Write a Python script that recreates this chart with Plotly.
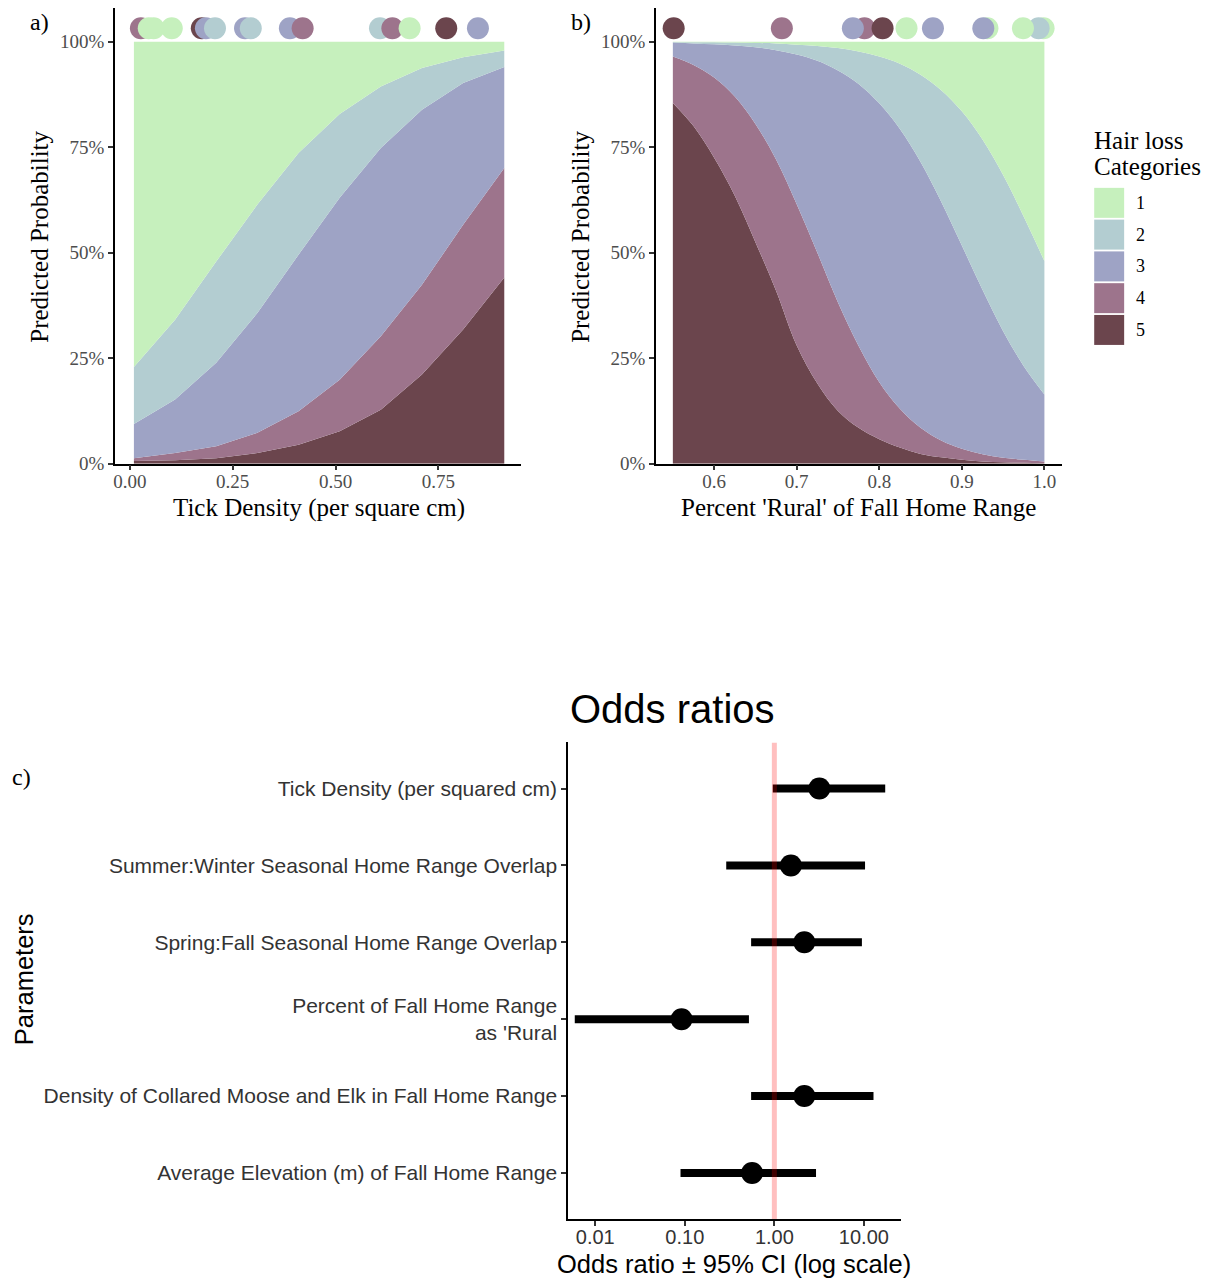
import plotly.graph_objects as go

# ---------------- data ----------------
CATEGORIES = [1, 2, 3, 4, 5]
COLORS = {1: '#c6f0bd', 2: '#b3cdd1', 3: '#9ea3c5', 4: '#9d748c', 5: '#6b454d'}

# panel a: predicted probability (%) of each hair-loss category vs tick density
tick_x = [0.01, 0.11, 0.21, 0.31, 0.41, 0.51, 0.61, 0.71, 0.81, 0.91]
tick_p1 = [77.1, 65.9, 52.1, 38.6, 26.4, 17.1, 10.6, 6.2, 3.7, 2.1]
tick_p2 = [13.5, 18.9, 24.0, 25.7, 24.1, 19.9, 14.6, 9.9, 6.1, 3.9]
tick_p3 = [8.1, 12.7, 19.8, 28.4, 37.1, 43.1, 44.6, 41.5, 33.6, 23.9]
tick_p4 = [0.7, 1.7, 2.8, 4.8, 7.9, 12.2, 17.4, 21.3, 24.8, 26.0]
tick_p5 = [0.6, 0.8, 1.3, 2.5, 4.5, 7.7, 12.8, 21.1, 31.8, 44.1]

# observed animals (tick density, category)
tick_obs_x = [0.027, 0.046, 0.058, 0.102, 0.175, 0.185, 0.207, 0.280, 0.294,
              0.389, 0.420, 0.608, 0.638, 0.680, 0.769, 0.846]
tick_obs_cat = [4, 1, 1, 1, 5, 3, 2, 3, 2, 3, 4, 2, 4, 1, 5, 3]

# panel b: predicted probability (%) vs percent rural of fall home range
rural_x = [0.55, 0.575, 0.6, 0.625, 0.65, 0.675, 0.7, 0.725, 0.75, 0.775,
           0.8, 0.825, 0.85, 0.875, 0.9, 0.925, 0.95, 0.975, 1.0]
rural_p1 = [0.05, 0.1, 0.1, 0.2, 0.3, 0.4, 0.7, 1.0, 1.5, 2.3,
            3.5, 5.2, 7.8, 11.5, 16.5, 23.2, 31.6, 41.5, 52.0]
rural_p2 = [0.15, 0.3, 0.5, 0.7, 1.0, 1.6, 2.3, 3.5, 5.3, 7.7,
            11.1, 15.5, 20.7, 26.4, 31.8, 35.6, 37.0, 35.4, 31.6]
rural_p3 = [3.3, 5.1, 7.9, 12.1, 18.2, 25.9, 35.5, 45.5, 55.0, 62.1,
            66.1, 66.3, 63.0, 56.6, 48.2, 39.0, 30.0, 22.2, 15.9]
rural_p4 = [11.0, 14.5, 19.0, 23.5, 28.0, 31.1, 33.5, 31.0, 25.7, 19.4,
            13.5, 9.2, 6.2, 4.0, 2.6, 1.7, 1.1, 0.7, 0.4]
rural_p5 = [85.5, 80.0, 72.5, 63.5, 52.5, 41.0, 28.0, 19.0, 12.5, 8.5,
            5.8, 3.8, 2.3, 1.5, 0.9, 0.5, 0.3, 0.2, 0.1]

rural_obs_x = [0.551, 0.682, 0.782, 0.768, 0.804, 0.833, 0.865, 0.931, 0.926,
               0.999, 0.993, 0.974]
rural_obs_cat = [5, 4, 4, 3, 5, 1, 3, 1, 3, 1, 2, 1]

# panel c: odds ratios with 95% CI
params = ["Tick Density (per squared cm)",
          "Summer:Winter Seasonal Home Range Overlap",
          "Spring:Fall Seasonal Home Range Overlap",
          "Percent of Fall Home Range<br>as 'Rural",
          "Density of Collared Moose and Elk in Fall Home Range",
          "Average Elevation (m) of Fall Home Range"]
odds = [3.18, 1.53, 2.16, 0.092, 2.16, 0.564]
ci_low = [0.96, 0.29, 0.55, 0.0059, 0.55, 0.0895]
ci_high = [17.3, 10.3, 9.5, 0.52, 12.8, 2.92]

# ---------------- figure ----------------
W, H = 1215, 1280
H_EFF = 1270
def px(x):
    return x / W
def py(y):
    return 1 - y / H_EFF

SERIF = "Liberation Serif"
SANS = "Liberation Sans"
GREY = "#4d4d4d"
DARK = "#333333"

fig = go.Figure()

tick_probs = {1: tick_p1, 2: tick_p2, 3: tick_p3, 4: tick_p4, 5: tick_p5}
rural_probs = {1: rural_p1, 2: rural_p2, 3: rural_p3, 4: rural_p4, 5: rural_p5}

for cat in reversed(CATEGORIES):
    fig.add_trace(go.Scatter(
        x=tick_x, y=[v / 100 for v in tick_probs[cat]], stackgroup='a',
        mode='lines', line=dict(width=0, shape='linear'),
        fillcolor=COLORS[cat], name=str(cat), showlegend=False,
        xaxis='x', yaxis='y'))
for cat in reversed(CATEGORIES):
    fig.add_trace(go.Scatter(
        x=rural_x, y=[v / 100 for v in rural_probs[cat]], stackgroup='b',
        mode='lines', line=dict(width=0, shape='spline', smoothing=1.0),
        fillcolor=COLORS[cat], name=str(cat), showlegend=False,
        xaxis='x2', yaxis='y2'))

DOT_Y = 1.032
fig.add_trace(go.Scatter(
    x=tick_obs_x, y=[DOT_Y] * len(tick_obs_x), mode='markers',
    marker=dict(size=22, color=[COLORS[c] for c in tick_obs_cat], line=dict(width=0)),
    cliponaxis=False, showlegend=False, xaxis='x', yaxis='y'))
fig.add_trace(go.Scatter(
    x=rural_obs_x, y=[DOT_Y] * len(rural_obs_x), mode='markers',
    marker=dict(size=22, color=[COLORS[c] for c in rural_obs_cat], line=dict(width=0)),
    cliponaxis=False, showlegend=False, xaxis='x2', yaxis='y2'))

# panel c
n = len(params)
ypos = list(range(n, 0, -1))
seg_x, seg_y = [], []
for lo, hi, yv in zip(ci_low, ci_high, ypos):
    seg_x += [lo, hi, None]
    seg_y += [yv, yv, None]
fig.add_trace(go.Scatter(x=seg_x, y=seg_y, mode='lines',
                         line=dict(color='black', width=8), showlegend=False,
                         xaxis='x3', yaxis='y3'))
fig.add_trace(go.Scatter(x=[1, 1], y=[0.4, n + 0.6], mode='lines',
                         line=dict(color='rgba(255,0,0,0.25)', width=5),
                         showlegend=False, xaxis='x3', yaxis='y3'))
fig.add_trace(go.Scatter(x=odds, y=ypos, mode='markers',
                         marker=dict(color='black', size=22), showlegend=False,
                         xaxis='x3', yaxis='y3'))

axis_common = dict(showgrid=False, zeroline=False, showline=True, linecolor='black',
                   linewidth=1.5, ticks='outside', ticklen=5, tickwidth=1.5,
                   tickcolor='#333333')

fig.update_layout(
    width=W, height=H, margin=dict(l=0, r=0, t=0, b=0),
    paper_bgcolor='white', plot_bgcolor='white', showlegend=False,
    xaxis=dict(domain=[px(113), px(520)], range=[-0.0364, 0.951],
               tickvals=[0, 0.25, 0.5, 0.75], ticktext=['0.00', '0.25', '0.50', '0.75'],
               ticklabelstandoff=-5,
               tickfont=dict(family=SERIF, size=19, color=GREY), anchor='y', **axis_common),
    yaxis=dict(domain=[py(464), py(8)], range=[0, 1.08],
               tickvals=[0, 0.25, 0.5, 0.75, 1.0], ticktext=['0%', '25%', '50%', '75%', '100%'],
               tickfont=dict(family=SERIF, size=19, color=GREY), anchor='x', **axis_common),
    xaxis2=dict(domain=[px(655), px(1062)], range=[0.5295, 1.0216],
                tickvals=[0.6, 0.7, 0.8, 0.9, 1.0], ticktext=['0.6', '0.7', '0.8', '0.9', '1.0'],
                ticklabelstandoff=-5,
                tickfont=dict(family=SERIF, size=19, color=GREY), anchor='y2', **axis_common),
    yaxis2=dict(domain=[py(464), py(8)], range=[0, 1.08],
                tickvals=[0, 0.25, 0.5, 0.75, 1.0], ticktext=['0%', '25%', '50%', '75%', '100%'],
                tickfont=dict(family=SERIF, size=19, color=GREY), anchor='x2', **axis_common),
    xaxis3=dict(domain=[px(567), px(900)], type='log', range=[-2.304, 1.409],
                tickvals=[0.01, 0.1, 1, 10], ticktext=['0.01', '0.10', '1.00', '10.00'],
                ticklabelstandoff=-6,
                tickfont=dict(family=SANS, size=20, color=DARK), anchor='y3', **axis_common),
    yaxis3=dict(domain=[py(1220), py(743)], range=[0.4, n + 0.6],
                tickvals=ypos, ticktext=params,
                tickfont=dict(family=SANS, size=21, color=DARK), anchor='x3', **axis_common),
)

ann = []
def text(x, y, s, size, family=SERIF, angle=0, xanchor='center', yanchor='middle',
         align='center', color='black'):
    ann.append(dict(x=px(x), y=py(y), xref='paper', yref='paper', text=s, showarrow=False,
                    font=dict(family=family, size=size, color=color), textangle=angle,
                    xanchor=xanchor, yanchor=yanchor, align=align))

text(38, 22, 'a)', 24)
text(580, 22, 'b)', 24)
text(20, 778, 'c)', 24)
text(38, 237, 'Predicted Probability', 25, angle=-90)
text(580, 237, 'Predicted Probability', 25, angle=-90)
text(318, 508, 'Tick Density (per square cm)', 25)
text(858, 508, "Percent 'Rural' of Fall Home Range", 25)
text(1092, 141, 'Hair loss', 25, xanchor='left')
text(1092, 167, 'Categories', 25, xanchor='left')
for i, cat in enumerate(CATEGORIES):
    top = 188 + i * 31.8
    fig.add_shape(type='rect', xref='paper', yref='paper',
                  x0=px(1094), x1=px(1124), y0=py(top), y1=py(top + 30),
                  fillcolor=COLORS[cat], line=dict(width=0))
    text(1140, top + 15, str(cat), 18)

text(567, 710, 'Odds ratios', 40, family=SANS, xanchor='left')
text(22, 980, 'Parameters', 25.5, family=SANS, angle=-90)
text(733.5, 1265, 'Odds ratio ± 95% CI (log scale)', 25.5, family=SANS)

fig.update_layout(annotations=ann)
fig.write_html("out.html")
